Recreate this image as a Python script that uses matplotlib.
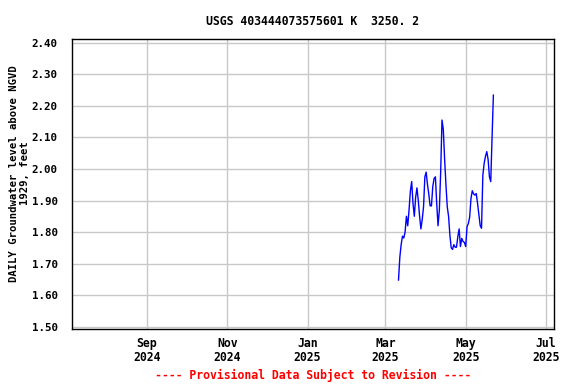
import matplotlib
matplotlib.use("Agg")
import matplotlib.pyplot as plt
import datetime as dt

start_date = dt.date(2025, 3, 11)
levels = [1.648, 1.72, 1.76, 1.787, 1.781, 1.80, 1.85, 1.82, 1.87, 1.93,
          1.96, 1.89, 1.85, 1.91, 1.94, 1.90, 1.85, 1.81, 1.84, 1.88,
          1.975, 1.99, 1.95, 1.92, 1.883, 1.883, 1.944, 1.97, 1.975, 1.89,
          1.82, 1.87, 1.99, 2.155, 2.125, 2.03, 1.95, 1.88, 1.85, 1.79,
          1.75, 1.745, 1.76, 1.752, 1.752, 1.785, 1.81, 1.754, 1.78, 1.77,
          1.767, 1.754, 1.817, 1.827, 1.847, 1.907, 1.931, 1.921, 1.917, 1.922,
          1.891, 1.855, 1.82, 1.812, 1.98, 2.018, 2.04, 2.055, 2.03, 1.975,
          1.96, 2.10, 2.234]
dates = [start_date + dt.timedelta(days=i) for i in range(len(levels))]

xtick_dates = [dt.date(2024, 9, 1), dt.date(2024, 11, 1), dt.date(2025, 1, 1),
               dt.date(2025, 3, 1), dt.date(2025, 5, 1), dt.date(2025, 7, 1)]
xtick_labels = ["Sep\n2024", "Nov\n2024", "Jan\n2025", "Mar\n2025", "May\n2025", "Jul\n2025"]
yticks = [1.50, 1.60, 1.70, 1.80, 1.90, 2.00, 2.10, 2.20, 2.30, 2.40]

font = {"family": "DejaVu Sans Mono", "weight": "bold"}

fig = plt.figure(figsize=(5.76, 3.84), dpi=100)
ax = fig.add_axes([0.1245, 0.1432, 0.8373, 0.7545])

ax.plot(dates, levels, color="#0000ff", linewidth=1.0)

ax.set_xlim(dt.date(2024, 7, 6), dt.date(2025, 7, 7))
ax.set_ylim(1.4927, 2.411)
ax.set_xticks(xtick_dates)
ax.set_xticklabels(xtick_labels, fontdict=font, fontsize=8.3, linespacing=1.1)
ax.set_yticks(yticks)
ax.set_yticklabels([f"{v:.2f}" for v in yticks], fontdict=font, fontsize=7.8)
ax.tick_params(axis="x", length=0, pad=5.5)
ax.tick_params(axis="y", length=0, pad=10)
ax.grid(True, color="#c8c8c8", linewidth=1.0)
ax.set_axisbelow(True)
for s in ax.spines.values():
    s.set_color("black")
    s.set_linewidth(1.0)

fig.text(0.543, 0.943, "USGS 403444073575601 K  3250. 2", ha="center", va="center",
         fontsize=8.3, **font)
fig.text(0.034, 0.549, "DAILY Groundwater level above NGVD\n1929, feet", ha="center",
         va="center", rotation=90, fontsize=7.6, linespacing=1.1, **font)
fig.text(0.543, 0.023, "---- Provisional Data Subject to Revision ----", ha="center",
         va="center", fontsize=8.3, color="red", **font)

fig.savefig("out.png", dpi=100)
